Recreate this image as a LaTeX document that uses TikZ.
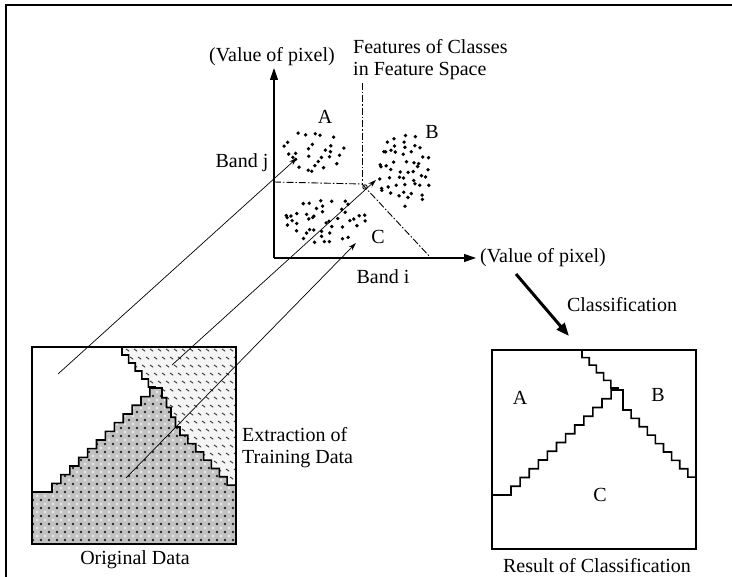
\documentclass[tikz,border=0pt]{standalone}
\usepackage{fontspec}
\setmainfont{Liberation Serif}
\usetikzlibrary{arrows.meta}
\begin{document}
\begin{tikzpicture}[x=1pt,y=-1pt,
  lbl/.style={font=\fontsize{20}{22}\selectfont, inner sep=0pt},
  frameline/.style={line width=1.4pt},
  axis/.style={line width=1.2pt,-{Triangle[length=12pt,width=8pt]}},
  ddot/.style={line width=0.9pt, dash pattern=on 7pt off 2pt on 1.5pt off 2pt},
  thinarrow/.style={line width=0.7pt,-{Stealth[length=8pt,width=5pt]}},
  bigarrow/.style={line width=3pt,-{Triangle[length=13pt,width=10pt]}},
  stair/.style={line width=1.6pt, line join=miter},
  boxline/.style={line width=1.5pt}]
\useasboundingbox (0,0) rectangle (732,577);
\draw[frameline] (6,577) -- (6,5) -- (732,5);

% ---------- feature space ----------
\coordinate (O) at (274,258);
\coordinate (ytip) at (274,68);
\coordinate (xtip) at (476,258);
\coordinate (J) at (362,184);
\coordinate (vtop) at (362,83);
\coordinate (hl) at (274,182);
\coordinate (dend) at (431,258);

% dots (jittered grid inside ellipses)
\pgfmathsetseed{9}
\foreach \cx/\cy/\rx/\ry in {315/151/32/21, 405/170/28/38, 324/221/43/23}{
  \foreach \gx in {-6,...,6}{\foreach \gy in {-6,...,6}{
    \pgfmathsetmacro\px{\gx*8+(rnd-0.5)*7}
    \pgfmathsetmacro\py{\gy*7.5+(rnd-0.5)*7}
    \pgfmathtruncatemacro\inside{((\px/\rx)^2+(\py/\ry)^2)<1 ? 1 : 0}
    \pgfmathtruncatemacro\keep{rnd<0.85 ? 1 : 0}
    \ifnum\inside\keep=11 \fill ({\cx+\px},{\cy+\py}) circle (1.9pt);\fi
  }}}

\draw[ddot] (vtop) -- (J);
\draw[ddot] (hl) -- (J);
\draw[ddot] (J) -- (dend);
\draw[axis] (O) -- (ytip);
\draw[axis] (O) -- (xtip);

\node[lbl] (vpy) at (272,57) {(Value of pixel)};
\node[lbl] (vpx) at (543,258) {(Value of pixel)};
\node[lbl,align=left,anchor=west] (feat) at (353,59.5) {Features of Classes\\in Feature Space};
\node[lbl] (bj) at (242,163) {Band j};
\node[lbl] (bi) at (383,277) {Band i};
\node[lbl] (fa) at (325,117) {A};
\node[lbl] (fb) at (432,132) {B};
\node[lbl] (fc) at (378,237) {C};

% ---------- original data ----------
\def\graypath{(32,492) -- (52,492) foreach \k in {1,...,11}{ -- ++(0,-8.67) -- ++(8.9,0)} -- ++(0,-8.67) -- (162,388)
  foreach \k in {1,...,4}{ -- ++(0,9.75) -- ++(4.5,0)} foreach \k in {1,...,7}{ -- ++(0,8.3) -- ++(7.86,0)} -- (236,485) -- (236,544) -- (32,544) -- cycle}
\def\hatchpath{(122,347) foreach \k in {1,...,5}{ -- ++(0,8) -- ++(6.6,0)} -- (155,388) -- (162,388)
  foreach \k in {1,...,4}{ -- ++(0,9.75) -- ++(4.5,0)} foreach \k in {1,...,7}{ -- ++(0,8.3) -- ++(7.86,0)} -- (236,485) -- (236,347) -- cycle}
\begin{scope}
  \clip \graypath;
  \fill[gray!48] (30,380) rectangle (240,546);
  \foreach \i in {0,...,26}{\foreach \j in {0,...,20}{
    \fill[gray!30!black] ({33+8*\i},{388+8*\j}) circle (1.4pt);
    \fill[gray!15] ({37+8*\i},{392+8*\j}) circle (1.3pt);}}
\end{scope}
\begin{scope}
  \clip \hatchpath;
  \fill[gray!8] (120,345) rectangle (240,490);
  \foreach \i in {0,...,15}{\foreach \j in {0,...,18}{
    \pgfmathsetmacro\xo{mod(\j,2)*4}
    \draw[line width=0.9pt,black!80] ({118+8*\i+\xo},{349+8*\j}) -- ++(3.2,2.2);}}
\end{scope}
\draw[stair] (32,492) -- (52,492) foreach \k in {1,...,11}{ -- ++(0,-8.67) -- ++(8.9,0)} -- ++(0,-8.67) -- (162,388)
  foreach \k in {1,...,4}{ -- ++(0,9.75) -- ++(4.5,0)} foreach \k in {1,...,7}{ -- ++(0,8.3) -- ++(7.86,0)} -- (236,485);
\draw[stair] (122,347) foreach \k in {1,...,5}{ -- ++(0,8) -- ++(6.6,0)} -- (155,388);
\draw[boxline] (32,347) rectangle (236,544);
\node[lbl] (od) at (135,560) {Original Data};
\node[lbl,align=left,anchor=west] (ext) at (242,447.5) {Extraction of\\Training Data};

% ---------- training arrows ----------
\coordinate (s1) at (58,374);  \coordinate (t1) at (297,158);
\coordinate (s2) at (172,365); \coordinate (t2) at (376,180);
\coordinate (s3) at (126,478); \coordinate (t3) at (356,243);
\draw[thinarrow] (s1) -- (t1);
\draw[thinarrow] (s2) -- (t2);
\draw[thinarrow] (s3) -- (t3);
\draw[line width=0.9pt] (365,187) circle (2.2pt);

% ---------- classification ----------
\coordinate (c1) at (516,274); \coordinate (c2) at (569,336);
\draw[bigarrow] (c1) -- (c2);
\node[lbl] (cls) at (622,305) {Classification};

\draw[stair] (582,350) foreach \k in {1,...,5}{ -- ++(0,7.6) -- ++(7.2,0)} -- (618,390);
\draw[stair] (492,495) -- (511,495) foreach \k in {1,...,11}{ -- ++(0,-8.75) -- ++(9.1,0)} -- ++(0,-8.75) -- (623,390) -- (623,410)
  foreach \k in {1,...,9}{ -- ++(8.1,0) -- ++(0,8.4)} -- (696,486);
\draw[boxline] (492,350) rectangle (696,549);
\node[lbl] (ra) at (520,398) {A};
\node[lbl] (rb) at (658,395) {B};
\node[lbl] (rc) at (600,495) {C};
\node[lbl] (res) at (597,566) {Result of Classification};
\end{tikzpicture}
\end{document}
